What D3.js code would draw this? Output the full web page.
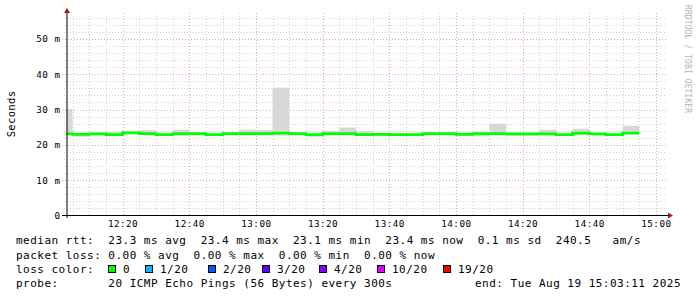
<!DOCTYPE html>
<html>
<head>
<meta charset="utf-8">
<script src="https://cdn.jsdelivr.net/npm/d3@7"></script>
<style>
html, body { margin: 0; padding: 0; background: #fff; }
svg { display: block; }
text { font-family: "DejaVu Sans Mono", monospace; }
</style>
</head>
<body>
<div id="chart"></div>
<script>
// 5 minute steps, each value covers the 5 min ending at the given time
const stepEnds = [
  "12:05","12:10","12:15","12:20","12:25","12:30","12:35","12:40","12:45","12:50","12:55",
  "13:00","13:05","13:10","13:15","13:20","13:25","13:30","13:35","13:40","13:45","13:50","13:55",
  "14:00","14:05","14:10","14:15","14:20","14:25","14:30","14:35","14:40","14:45","14:50","14:55"
]
const median = [
  23.1, 23.0, 23.1, 22.9, 23.4, 23.2, 22.9, 23.2, 23.2, 22.9, 23.2,
  23.2, 23.2, 23.3, 23.2, 22.9, 23.2, 23.2, 22.9, 23.0, 22.9, 22.9, 23.2,
  23.2, 23.0, 23.2, 23.2, 23.1, 23.1, 23.1, 22.9, 23.3, 23.1, 22.9, 23.3
]
const pingLo = [
  23.0, 22.3, 22.8, 22.7, 23.0, 22.8, 22.7, 22.6, 22.8, 22.7, 22.9,
  22.9, 22.8, 22.6, 23.0, 22.3, 22.9, 22.9, 22.7, 22.4, 22.7, 22.7, 22.8,
  22.9, 22.5, 22.4, 22.8, 22.5, 22.5, 22.9, 22.7, 22.7, 22.9, 22.7, 23.0
]
const pingHi = [
  30.2, 23.3, 23.5, 23.7, 24.0, 24.2, 23.1, 24.3, 23.4, 23.1, 23.5,
  24.3, 24.2, 36.2, 23.4, 23.1, 23.9, 24.9, 23.9, 23.3, 23.1, 23.1, 23.5,
  23.5, 23.2, 23.7, 26.0, 23.3, 23.2, 24.3, 23.1, 24.6, 23.3, 23.1, 25.4
]

const yTicks = [0, 10, 20, 30, 40, 50]
const yLabels = ["0", "10 m", "20 m", "30 m", "40 m", "50 m"]
const xTicks = ["12:20","12:40","13:00","13:20","13:40","14:00","14:20","14:40","15:00"]

const lossLabels = ["0", "1/20", "2/20", "3/20", "4/20", "10/20", "19/20"]
const lossColors = ["#00ff00", "#00b8ff", "#0059ff", "#5e00ff", "#7e00ff", "#dd00ff", "#ff0000"]

const legendRows = [
  "median rtt:  23.3 ms avg  23.4 ms max  23.1 ms min  23.4 ms now  0.1 ms sd  240.5   am/s",
  "packet loss: 0.00 % avg  0.00 % max  0.00 % min  0.00 % now",
  "loss color:",
  "probe:       20 ICMP Echo Pings (56 Bytes) every 300s"
]
const endText = "end: Tue Aug 19 15:03:11 2025"

const W = 697, H = 297
const at = hm => new Date(2025, 7, 19, +hm.slice(0, 2), +hm.slice(3, 5))
const tStart = new Date(2025, 7, 19, 12, 3, 11)
const tEnd = new Date(2025, 7, 19, 15, 3, 11)

const svg = d3.select("#chart").append("svg")
  .attr("width", W)
  .attr("height", H)

const x = d3.scaleTime().domain([tStart, tEnd]).range([66.5, 666.5])
const y = d3.scaleLinear().domain([0, 57.2]).range([215.5, 13.5])

// grid
const grid = svg.append("g")
const minorT = d3.timeMinute.every(5).range(tStart, tEnd)
grid.selectAll(".vmin").data(minorT).enter().append("line")
  .attr("x1", d => Math.round(x(d)) + 0.5).attr("x2", d => Math.round(x(d)) + 0.5)
  .attr("y1", 13).attr("y2", 215)
  .attr("stroke", "#d2d2d2").attr("stroke-dasharray", "1,2")
grid.selectAll(".hmin").data(d3.range(2, 57, 2).filter(v => v % 10)).enter().append("line")
  .attr("x1", 64).attr("x2", 667)
  .attr("y1", d => Math.round(y(d)) + 0.5).attr("y2", d => Math.round(y(d)) + 0.5)
  .attr("stroke", "#d2d2d2").attr("stroke-dasharray", "1,2")
grid.selectAll(".vmaj").data(xTicks).enter().append("line")
  .attr("x1", d => Math.round(x(at(d))) + 0.5).attr("x2", d => Math.round(x(at(d))) + 0.5)
  .attr("y1", 13).attr("y2", 215)
  .attr("stroke", "#e6a4a4").attr("stroke-dasharray", "1,2")
grid.selectAll(".hmaj").data(yTicks.slice(1)).enter().append("line")
  .attr("x1", 62).attr("x2", 667)
  .attr("y1", d => Math.round(y(d)) + 0.5).attr("y2", d => Math.round(y(d)) + 0.5)
  .attr("stroke", "#e6a4a4").attr("stroke-dasharray", "1,2")

// smoke
const steps = stepEnds.map((e, i) => {
  const t1 = at(e)
  const t0 = new Date(Math.max(+t1 - 300000, +tStart))
  return { t0, t1, lo: pingLo[i], hi: pingHi[i], med: median[i] }
})

svg.append("g").selectAll("rect").data(steps).enter().append("rect")
  .attr("x", d => x(d.t0))
  .attr("width", d => x(d.t1) - x(d.t0))
  .attr("y", d => y(d.hi))
  .attr("height", d => y(d.lo) - y(d.hi))
  .attr("fill", "#d8d8d8")

// median line coloured by loss (all 0 loss -> green)
const medPts = steps.flatMap(d => [[d.t0, d.med], [d.t1, d.med]])
svg.append("path")
  .attr("d", d3.line().x(d => x(d[0])).y(d => y(d[1]))(medPts))
  .attr("fill", "none")
  .attr("stroke", lossColors[0])
  .attr("stroke-width", 2.8)

// axes
const yAxis = d3.axisLeft(y).tickValues(yTicks)
  .tickFormat((d, i) => yLabels[i]).tickSize(0).tickPadding(6)
const gy = svg.append("g").attr("transform", "translate(66.5,0)").call(yAxis)
gy.select(".domain").remove()
gy.selectAll("text").attr("font-size", 9.3).attr("letter-spacing", 0.45)
  .attr("fill", "#000").style("font-family", "DejaVu Sans Mono")

const xAxis = d3.axisBottom(x).tickValues(xTicks.map(at))
  .tickFormat(d3.timeFormat("%H:%M")).tickSize(0).tickPadding(5)
const gx = svg.append("g").attr("transform", "translate(0,215.5)").call(xAxis)
gx.select(".domain").remove()
gx.selectAll("text").attr("font-size", 9.3).attr("letter-spacing", 0.45)
  .attr("fill", "#000").style("font-family", "DejaVu Sans Mono")

svg.append("line").attr("x1", 62).attr("x2", 668).attr("y1", 215.5).attr("y2", 215.5)
  .attr("stroke", "#000")
svg.append("line").attr("x1", 67).attr("x2", 67).attr("y1", 218).attr("y2", 12)
  .attr("stroke", "#000")
svg.append("path").attr("d", "M64,13 L70,13 L67,8 Z").attr("fill", "#a01818")
svg.append("path").attr("d", "M668,212.5 L668,218.5 L673,215.5 Z").attr("fill", "#a01818")

// axis title and watermark
svg.append("text")
  .attr("transform", "translate(14.5,114) rotate(-90)")
  .attr("text-anchor", "middle")
  .attr("font-size", 10.5).attr("letter-spacing", 0.35)
  .text("Seconds")

svg.append("text")
  .attr("transform", "translate(684.5,5) rotate(90)")
  .attr("font-size", 8).attr("letter-spacing", 0.1)
  .attr("fill", "#b4b4b4")
  .text("RRDTOOL / TOBI OETIKER")

// legend
const rowY = [244, 258.5, 272.5, 287]
const lg = svg.append("g").attr("font-size", 11).attr("letter-spacing", 0.48)
lg.selectAll(".row").data(legendRows).enter().append("text")
  .attr("x", 16).attr("y", (d, i) => rowY[i])
  .style("white-space", "pre")
  .text(d => d)
lg.append("text").attr("x", 681).attr("y", rowY[3])
  .attr("text-anchor", "end").style("white-space", "pre")
  .text(endText)

const lossX = [108, 145, 208, 262, 319, 377, 443]
const items = lg.selectAll(".loss").data(lossLabels).enter().append("g")
  .attr("transform", (d, i) => `translate(${lossX[i]},0)`)
items.append("rect").attr("x", 0.5).attr("y", 265.5).attr("width", 7).attr("height", 7)
  .attr("fill", (d, i) => lossColors[i]).attr("stroke", "#000")
items.append("text").attr("x", 15).attr("y", rowY[2]).text(d => d)
</script>
</body>
</html>
